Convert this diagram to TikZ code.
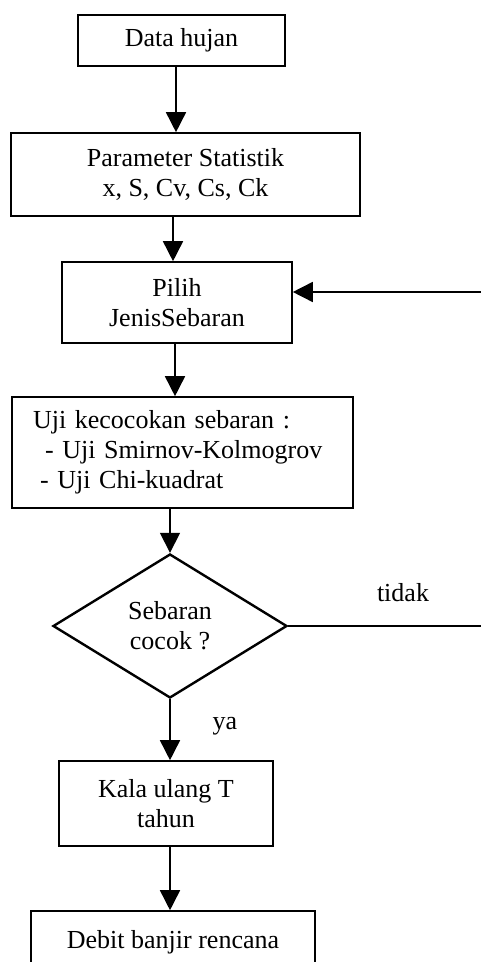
\documentclass[tikz,border=0pt]{standalone}
\usepackage{fontspec}
\setmainfont{Liberation Serif}
\usepackage{tikz}
\usetikzlibrary{arrows.meta,positioning,shapes.geometric}
\tikzset{
  >={Triangle[length=10pt,width=10pt]},
  box/.style ={draw,line width=0.8pt,align=center,inner sep=0pt,
               font=\fontsize{13}{15}\selectfont},
  dec/.style ={diamond,draw,line width=1.2pt,aspect=1.625,inner sep=0pt,align=center,
               minimum width=117pt,minimum height=72pt,font=\fontsize{13}{15}\selectfont},
  ar/.style  ={->,line width=0.8pt},
  lbl/.style ={font=\fontsize{13}{15}\selectfont,inner sep=0pt},
}

\begin{document}
\begin{tikzpicture}[x=0.5pt,y=-0.5pt]
\useasboundingbox (0,0) rectangle (481,962);
\node[box,minimum width=103.5pt,minimum height=25.5pt] (data)  at (181.5,40.5) {Data hujan};
\node[box,minimum width=174.5pt,minimum height=41.5pt] (param) at (185.5,174.5)
 {Parameter Statistik\\x, S, Cv, Cs, Ck};
\node[box,minimum width=115pt,minimum height=40.5pt] (pilih) at (177,302.5)
 {Pilih\\JenisSebaran};
\node[box,align=left,text width=149.5pt,inner xsep=10.5pt,minimum height=55.5pt] (uji) at (182.5,452.5)
 {Uji kecocokan sebaran :\\\hspace*{6pt}- Uji Smirnov-Kolmogrov\\\hspace*{3.5pt}- Uji Chi-kuadrat};
\node[dec] (cocok) at (170,626) {Sebaran\\cocok ?};
\node[box,minimum width=107pt,minimum height=42.5pt] (kala)  at (166,803.5)
 {Kala ulang T\\tahun};
\node[box,minimum width=142pt,minimum height=31pt] (debit) at (173,942) {Debit banjir rencana};
\coordinate (balik) at (481,292);
\coordinate (tidak) at (481,626);
% aliran utama
\draw[ar] ([xshift=-2.75pt]data.south)  -- ([xshift=-4.75pt]param.north);
\draw[ar] ([xshift=-6.25pt]param.south) -- ([xshift=-2pt]pilih.north);
\draw[ar] ([xshift=-1pt]pilih.south)    -- ([xshift=-3.75pt]uji.north);
\draw[ar] ([xshift=-6.25pt]uji.south)   -- (cocok.north);
\draw[ar] (cocok.south) -- ([xshift=2pt]kala.north);
\draw[ar] ([xshift=2pt]kala.south)      -- ([xshift=-1.5pt]debit.north);
% cabang tidak
\draw[line width=0.8pt] (cocok.east) -- (tidak);
\draw[ar] (balik) -- (pilih.east |- balik);
\node[lbl] (ltidak) at (403,593) {tidak};
\node[lbl] (lya)    at (225,726) {ya};
\end{tikzpicture}
\end{document}
